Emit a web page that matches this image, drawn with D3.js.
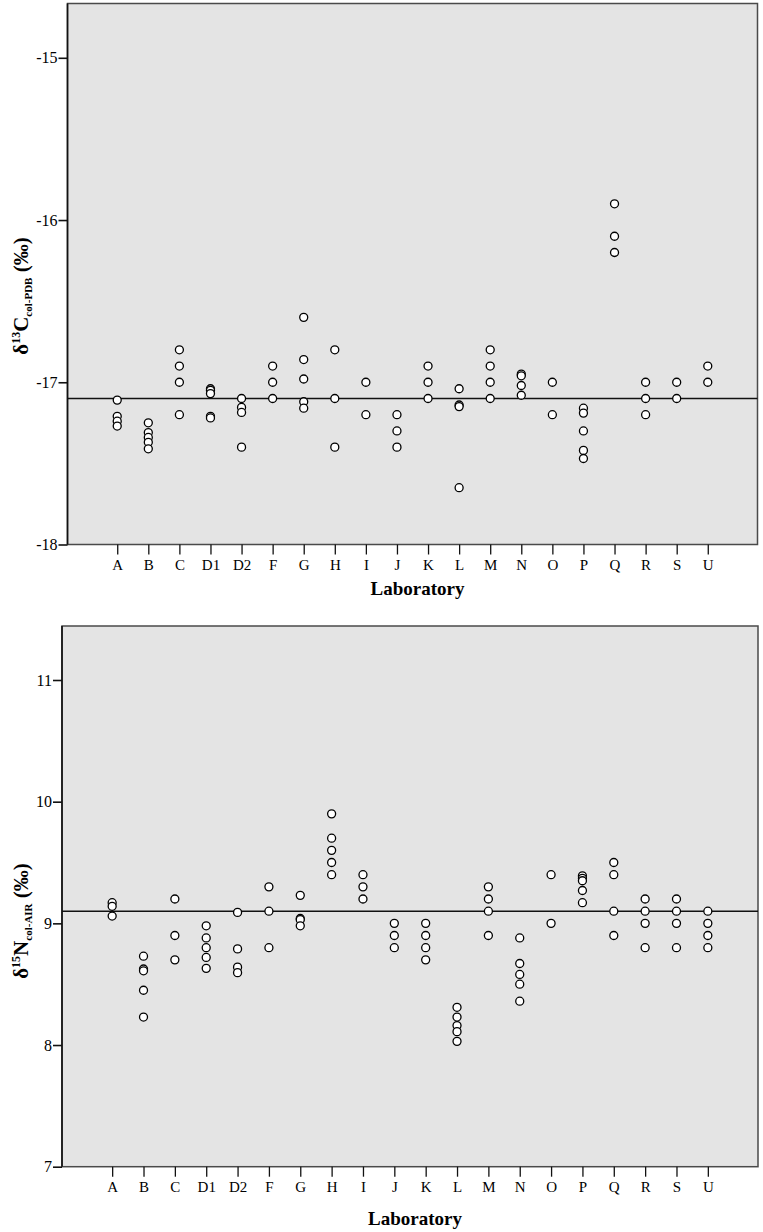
<!DOCTYPE html>
<html>
<head>
<meta charset="utf-8">
<script src="https://cdn.jsdelivr.net/npm/d3@7"></script>
<style>
  html, body { margin: 0; padding: 0; background: #fff; }
  svg { display: block; }
  svg text { font-family: "Liberation Serif", "Times New Roman", Times, serif; fill: #000; }
</style>
</head>
<body>
<svg id="chart" width="763" height="1232"></svg>
<script>
// ---- data ----
const labs = ["A","B","C","D1","D2","F","G","H","I","J","K","L","M","N","O","P","Q","R","S","U"];

const d13C = [
  [-17.11, -17.21, -17.24, -17.27],          // A
  [-17.25, -17.31, -17.34, -17.37, -17.41],  // B
  [-16.8, -16.9, -17.0, -17.2],              // C
  [-17.04, -17.05, -17.07, -17.21, -17.22],  // D1
  [-17.1, -17.155, -17.186, -17.4],          // D2
  [-16.9, -17.0, -17.1],                     // F
  [-16.6, -16.86, -16.98, -17.12, -17.16],   // G
  [-16.8, -17.1, -17.4],                     // H
  [-17.0, -17.2],                            // I
  [-17.2, -17.3, -17.4],                     // J
  [-16.9, -17.0, -17.1],                     // K
  [-17.04, -17.14, -17.15, -17.65],          // L
  [-16.8, -16.9, -17.0, -17.1],              // M
  [-16.95, -16.96, -17.02, -17.08],          // N
  [-17.0, -17.2],                            // O
  [-17.16, -17.19, -17.3, -17.42, -17.47],   // P
  [-15.9, -16.1, -16.2],                     // Q
  [-17.0, -17.1, -17.2],                     // R
  [-17.0, -17.1],                            // S
  [-16.9, -17.0]                             // U
];

const d15N = [
  [9.17, 9.14, 9.06],               // A
  [8.73, 8.625, 8.61, 8.45, 8.23],  // B
  [9.2, 8.9, 8.7],                  // C
  [8.98, 8.88, 8.8, 8.72, 8.63],    // D1
  [9.09, 8.79, 8.64, 8.595],        // D2
  [9.3, 9.1, 8.8],                  // F
  [9.23, 9.04, 9.03, 8.98],         // G
  [9.9, 9.7, 9.6, 9.5, 9.4],        // H
  [9.4, 9.3, 9.2],                  // I
  [9.0, 8.9, 8.8],                  // J
  [9.0, 8.9, 8.8, 8.7],             // K
  [8.31, 8.23, 8.16, 8.11, 8.03],   // L
  [9.3, 9.2, 9.1, 8.9],             // M
  [8.88, 8.67, 8.58, 8.5, 8.36],    // N
  [9.4, 9.0],                       // O
  [9.39, 9.37, 9.35, 9.27, 9.17],   // P
  [9.5, 9.4, 9.1, 8.9],             // Q
  [9.2, 9.1, 9.0, 8.8],             // R
  [9.2, 9.1, 9.0, 8.8],             // S
  [9.1, 9.0, 8.9, 8.8]              // U
];

const cTicks = [-18, -17, -16, -15];
const cTickLabels = ["-18", "-17", "-16", "-15"];
const nTicks = [7, 8, 9, 10, 11];
const nTickLabels = ["7", "8", "9", "10", "11"];
const cRef = -17.1;
const nRef = 9.1;
const xTitle = "Laboratory";

// ---- drawing ----
const SERIF = '"Liberation Serif", "Times New Roman", Times, serif';
const svg = d3.select("#chart");

function panel(cfg) {
  const g = svg.append("g");
  const x = d3.scalePoint().domain(labs).range([cfg.left, cfg.right]).padding(1.6);
  const y = d3.scaleLinear().domain(cfg.domain).range(cfg.yRange);

  // background
  g.append("rect")
    .attr("x", cfg.left).attr("y", cfg.top)
    .attr("width", cfg.right - cfg.left).attr("height", cfg.bottom - cfg.top)
    .attr("fill", "#e4e4e4").attr("stroke", "#4a4a4a").attr("stroke-width", 1.5);

  // reference line
  g.append("line")
    .attr("x1", cfg.left).attr("x2", cfg.right)
    .attr("y1", y(cfg.ref)).attr("y2", y(cfg.ref))
    .attr("stroke", "#111").attr("stroke-width", 1.6);

  // points
  const pts = [];
  cfg.values.forEach((vals, i) => vals.forEach(v => pts.push({lab: labs[i], v})));
  g.selectAll("circle.pt").data(pts).enter().append("circle")
    .attr("class", "pt")
    .attr("cx", d => x(d.lab)).attr("cy", d => y(d.v))
    .attr("r", 4)
    .attr("fill", "#fff").attr("stroke", "#000").attr("stroke-width", 1.3);

  // y axis
  const ya = g.append("g").attr("transform", `translate(${cfg.left},0)`)
    .attr("font-family", SERIF)
    .call(d3.axisLeft(y).tickValues(cfg.ticks).tickSize(9).tickPadding(1)
      .tickFormat((d, i) => cfg.tickLabels[i]));
  ya.attr("font-family", SERIF).attr("font-size", 16);
  ya.select(".domain").attr("d", `M0,${cfg.top}V${cfg.bottom}`).attr("stroke", "#111").attr("stroke-width", 1.6);
  ya.selectAll(".tick line").attr("stroke", "#111").attr("stroke-width", 1.6);
  ya.selectAll(".tick text").style("font-family", SERIF).style("font-size", "16px").attr("fill", "#000");

  // x axis
  const xa = g.append("g").attr("transform", `translate(0,${cfg.bottom})`)
    .call(d3.axisBottom(x).tickSize(10).tickPadding(5));
  xa.attr("font-family", SERIF).attr("font-size", 15);
  xa.select(".domain").remove();
  xa.selectAll(".tick line").attr("stroke", "#111").attr("stroke-width", 1.3);
  xa.selectAll(".tick text").style("font-family", SERIF).style("font-size", "15px").attr("fill", "#000");

  // x title
  g.append("text")
    .attr("x", (cfg.left + cfg.right) / 2 + 5).attr("y", cfg.xTitleY)
    .attr("text-anchor", "middle")
    .style("font-family", SERIF)
    .style("font-weight", "bold").style("font-size", "19px")
    .text(xTitle);

  // y title
  const t = g.append("text")
    .attr("transform", `translate(${cfg.yTitleX},${cfg.yTitleY}) rotate(-90)`)
    .attr("text-anchor", "middle")
    .style("font-family", SERIF)
    .style("font-weight", "bold").style("font-size", "21px");
  t.append("tspan").text("δ");
  t.append("tspan").attr("dy", -8).style("font-size", "12px").text(cfg.iso);
  t.append("tspan").attr("dy", 8).text(cfg.elem);
  t.append("tspan").attr("dy", 4).style("font-size", "11px").text(cfg.sub);
  t.append("tspan").attr("dy", -4).text(" (‰)");
}

panel({
  left: 67.5, right: 757.5, top: 3.5, bottom: 544.5,
  domain: [-18, -15], yRange: [544.5, 57.8],
  ticks: cTicks, tickLabels: cTickLabels, ref: cRef, values: d13C,
  xTitleY: 595, yTitleX: 28, yTitleY: 296,
  iso: "13", elem: "C", sub: "col-PDB"
});

panel({
  left: 62, right: 758, top: 626, bottom: 1166.7,
  domain: [7, 11], yRange: [1166.7, 680],
  ticks: nTicks, tickLabels: nTickLabels, ref: nRef, values: d15N,
  xTitleY: 1225, yTitleX: 28, yTitleY: 921,
  iso: "15", elem: "N", sub: "col-AIR"
});
</script>
</body>
</html>
